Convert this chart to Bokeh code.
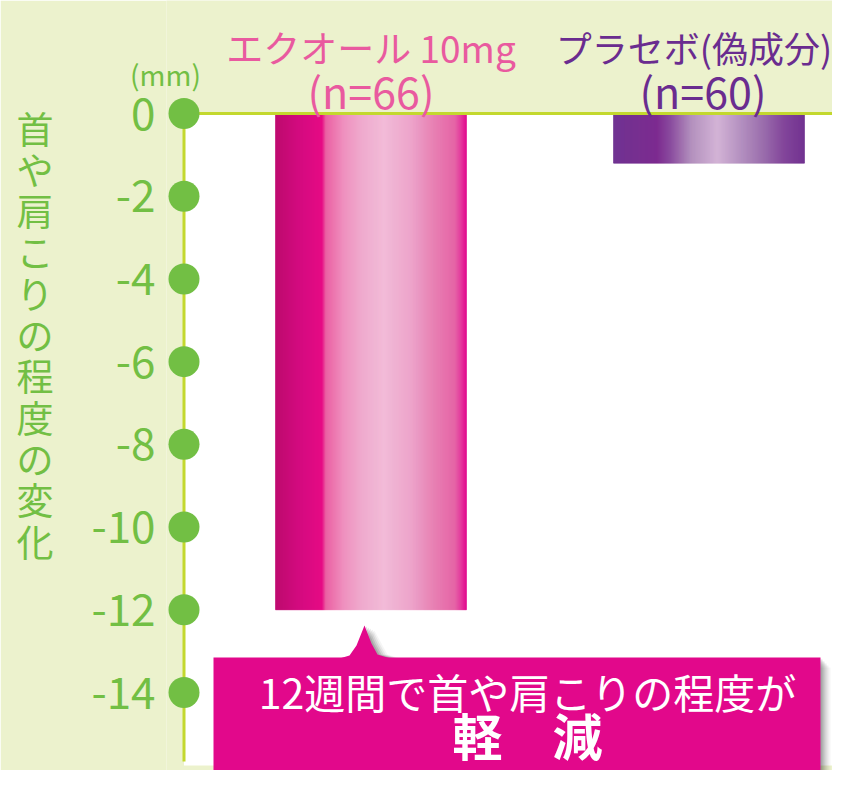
import numpy as np
from bokeh.plotting import figure
from bokeh.models import Range1d, FixedTicker, Label, LinearAxis
from bokeh.core.properties import value
from bokeh.embed import file_html
from bokeh.resources import INLINE

# ---------------- data ----------------
groups = ["エクオール 10mg", "プラセボ(偽成分)"]
group_n = ["(n=66)", "(n=60)"]
changes = [-12.0, -1.2]
y_ticks = [0, -2, -4, -6, -8, -10, -12, -14]
y_tick_labels = ["0", "-2", "-4", "-6", "-8", "-10", "-12", "-14"]
y_title = "首や肩こりの程度の変化"
unit_label = "(mm)"
callout_line1 = "12週間で首や肩こりの程度が"
callout_line2 = "軽　減"

# ---------------- styles ----------------
BG = "#ecf2cd"
GREEN = "#72bf44"
AXIS_LINE = "#c3d82e"
PINK_TXT = "#e95a9f"
PURPLE_TXT = "#6a2c8f"
CALLOUT = "#e2088b"
FONT = "Noto Sans CJK JP"
pink_stops = [(0.00, "#bd006a"), (0.04, "#c1006d"), (0.13, "#d2007b"), (0.245, "#e5007f"),
              (0.265, "#ea5a9f"), (0.36, "#ee8cbc"), (0.45, "#efa6cb"), (0.57, "#f1b8d6"),
              (0.71, "#eca0c8"), (0.83, "#e67bb0"), (0.94, "#e45ea2"), (0.97, "#e3359a"),
              (1.00, "#e0008a")]
purple_stops = [(0.00, "#6a2b8d"), (0.23, "#77228b"), (0.30, "#85449a"), (0.41, "#b08cbb"),
                (0.545, "#d1b0d4"), (0.67, "#b08bbd"), (0.79, "#9566a8"), (0.895, "#7d3d96"),
                (1.00, "#6c2a8c")]
bar_stops = [pink_stops, purple_stops]

# ---------------- geometry (pixels of the canvas) ----------------
W, H = 832, 770
FL = 166              # frame left
PX_X = 338.0          # px per x unit (distance between bar centres)
PX_Y = 579.0 / 14     # px per mm
Y0 = 113              # pixel row of value 0
x_start = 1 - (370.5 - FL) / PX_X
x_end = x_start + (W - FL) / PX_X
y_top = Y0 / PX_Y
y_bot = -(H - Y0) / PX_Y


def dx(px):
    return x_start + (px - FL) / PX_X


def dy(py):
    return -(py - Y0) / PX_Y


def hex2rgb(h):
    return [int(h[i:i + 2], 16) for i in (1, 3, 5)]


def grad_colors(stops, fr):
    pos = np.array([s[0] for s in stops])
    cols = np.array([hex2rgb(s[1]) for s in stops], float)
    out = []
    for f in fr:
        rgb = [int(round(np.interp(f, pos, cols[:, k]))) for k in range(3)]
        out.append("#%02x%02x%02x" % tuple(rgb))
    return out


p = figure(width=W, height=H, x_range=Range1d(x_start, x_end), y_range=Range1d(y_bot, y_top),
           output_backend="svg", toolbar_location=None, x_axis_location=None,
           min_border_left=FL, min_border_right=0, min_border_top=0, min_border_bottom=0)
p.background_fill_color = BG
p.border_fill_color = BG
p.outline_line_color = None
p.grid.visible = False

# value axis (tick labels)
ax = p.yaxis[0]
ax.ticker = FixedTicker(ticks=y_ticks)
ax.major_label_overrides = {t: l for t, l in zip(y_ticks, y_tick_labels)}
ax.axis_line_color = None
ax.major_tick_line_color = None
ax.minor_tick_line_color = None
ax.major_tick_out = 0
ax.major_tick_in = 0
ax.major_label_standoff = 11
ax.major_label_text_color = GREEN
ax.major_label_text_font = FONT
ax.major_label_text_font_size = "44px"

# title axis: upright stacked characters as tick labels
STEP = 41.3
FIRST = 127
p.extra_y_ranges = {"title": Range1d(start=(H - FIRST) / STEP, end=(0 - FIRST) / STEP)}
tax = LinearAxis(y_range_name="title", ticker=FixedTicker(ticks=list(range(len(y_title)))),
                 major_label_overrides={j: ch for j, ch in enumerate(y_title)},
                 axis_line_color=None, major_tick_line_color=None, minor_tick_line_color=None,
                 major_tick_out=0, major_tick_in=0, major_label_standoff=35,
                 major_label_text_color=GREEN, major_label_text_font=FONT,
                 major_label_text_font_size="37px")
p.add_layout(tax, "left")

axis_x = dx(183.5)

# white plotting area
p.quad(left=[axis_x], right=[x_end], top=[0], bottom=[dy(765)], fill_color="white", line_color=None)

# gradient bars
bar_w = 191 / PX_X
n = 191
for i, (val, stops) in enumerate(zip(changes, bar_stops)):
    c = i + 1
    edges = np.linspace(c - bar_w / 2, c + bar_w / 2, n + 1)
    fr = (np.arange(n) + 0.5) / n
    cols = grad_colors(stops, fr)
    p.quad(left=edges[:-1], right=edges[1:], top=0, bottom=val,
           fill_color=cols, line_color=cols, line_width=0.6)

# axis lines
p.segment(x0=[axis_x], y0=[0], x1=[axis_x], y1=[dy(761)], line_color=AXIS_LINE, line_width=3)
p.segment(x0=[axis_x], y0=[0], x1=[x_end], y1=[0], line_color=AXIS_LINE, line_width=3)

# tick dots
p.scatter(x=[axis_x] * len(y_ticks), y=y_ticks, size=31, fill_color=GREEN, line_color=None)

# callout shadow
ptr_x = [339, 349, 356, 364, 371, 377, 390]
ptr_y = [658, 655, 645, 625, 643, 654, 658]
for k, a in [(10, 0.04), (8, 0.06), (6, 0.08), (4, 0.10), (2, 0.12)]:
    p.quad(left=[dx(213 + k)], right=[dx(820 + k)], top=[dy(657 + k)], bottom=[y_bot],
           fill_color="black", fill_alpha=a, line_color=None)
    p.patch(x=[dx(v + k) for v in ptr_x], y=[dy(v + (k // 2 if v == 625 else 0)) for v in ptr_y],
            fill_color="black", fill_alpha=a, line_color=None)

# callout box + pointer
p.quad(left=[dx(213)], right=[dx(820)], top=[dy(657)], bottom=[y_bot], fill_color=CALLOUT, line_color=None)
p.patch(x=[dx(v) for v in ptr_x], y=[dy(v) for v in ptr_y], fill_color=CALLOUT, line_color=None)


def make_label(x, y, text, size, color, bold=False):
    return Label(x=x, y=y, text=text, text_align="center", text_baseline="middle",
                 text_font_size=f"{size}px", text_color=color, text_font=FONT,
                 text_font_style="bold" if bold else "normal")


# group headers
p.add_layout(make_label(1, dy(46), groups[0], 37, PINK_TXT))
p.add_layout(make_label(1, dy(89), group_n[0], 43, PINK_TXT))
p.add_layout(make_label(2 - 15 / PX_X, dy(46), groups[1], 36, PURPLE_TXT))
p.add_layout(make_label(2 - 6 / PX_X, dy(89), group_n[1], 43, PURPLE_TXT))

# unit label: text glyph on the overlay level (straddles the frame edge)
p.text(x=[dx(165)], y=[dy(73)], text=[unit_label], text_align="center", text_baseline="middle",
       text_font=value(FONT), text_font_size="28px", text_color=GREEN, level="overlay")

# callout texts
p.add_layout(make_label(dx(527), dy(690), callout_line1, 41, "white"))
p.add_layout(make_label(dx(527), dy(733), callout_line2, 50, "white", bold=True))

open("out.html", "w").write(file_html(p, INLINE))
